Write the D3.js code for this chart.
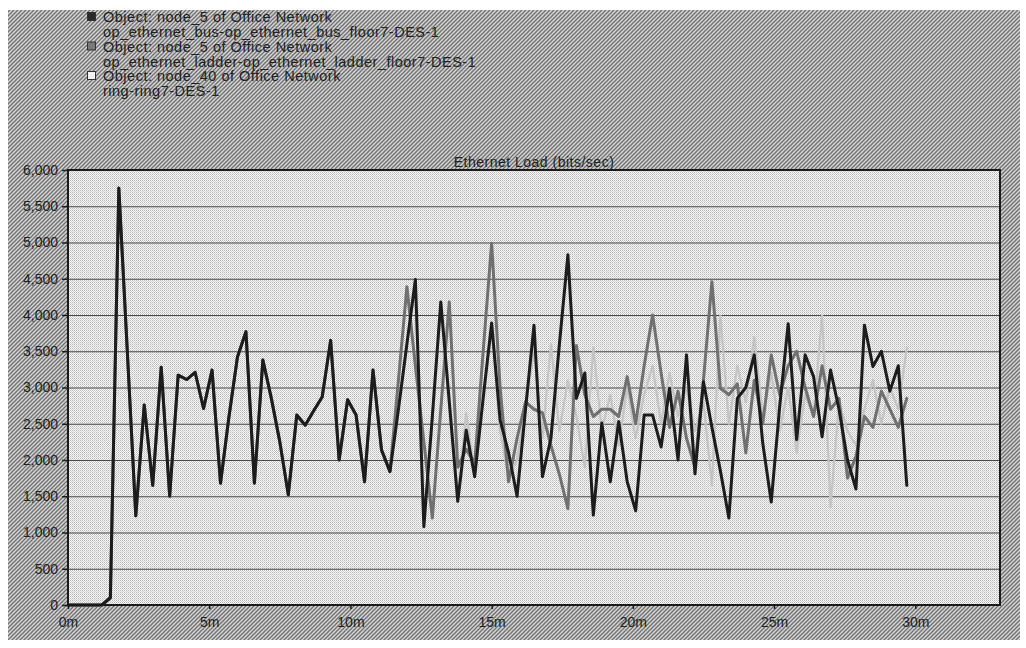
<!DOCTYPE html>
<html><head><meta charset="utf-8">
<script src="https://cdn.jsdelivr.net/npm/d3@7"></script>
<style>
html,body{margin:0;padding:0;background:#fff;}
svg text{font-family:"Liberation Sans",Arial,sans-serif;}
</style></head>
<body><svg id="c" width="1026" height="648"></svg>
<script>
// ---------------- data ----------------
const timeMin = [0,0.3,0.6,0.9,1.2,1.5,1.8,2.1,2.4,2.7,3.0,3.3,3.6,3.9,4.2,4.5,4.8,5.1,5.4,5.7,
  6.0,6.3,6.6,6.9,7.2,7.5,7.8,8.1,8.4,8.7,9.0,9.3,9.6,9.9,10.2,10.5,10.8,11.1,11.4,11.7,
  12.0,12.3,12.6,12.9,13.2,13.5,13.8,14.1,14.4,14.7,15.0,15.3,15.6,15.9,16.2,16.5,16.8,17.1,17.4,17.7,
  18.0,18.3,18.6,18.9,19.2,19.5,19.8,20.1,20.4,20.7,21.0,21.3,21.6,21.9,22.2,22.5,22.8,23.1,23.4,23.7,
  24.0,24.3,24.6,24.9,25.2,25.5,25.8,26.1,26.4,26.7,27.0,27.3,27.6,27.9,28.2,28.5,28.8,29.1,29.4,29.7];

const busLoad = [0,0,0,0,0,100,5750,3500,1230,2760,1650,3280,1500,3170,3110,3210,2710,3240,1680,2600,
  3420,3770,1680,3380,2850,2250,1520,2620,2480,2680,2870,3650,2000,2830,2620,1700,3240,2140,1840,2700,
  3600,4490,1080,2600,4180,2800,1430,2410,1770,2850,3890,2550,2100,1500,2700,3860,1770,2300,3600,4830,
  2850,3200,1240,2510,1700,2530,1700,1300,2620,2620,2180,2990,2000,3450,1810,3080,2450,1850,1200,2850,
  3000,3450,2230,1420,2740,3880,2280,3450,3150,2320,3240,2700,2000,1600,3860,3290,3500,2950,3300,1650];

const ladderLoad = [0,0,0,0,0,100,5750,3500,1230,2760,1650,3280,1500,3170,3110,3210,2710,3240,1680,2600,
  3420,3770,1680,3380,2850,2250,1520,2620,2480,2680,2870,3650,2000,2830,2620,1700,3240,2140,1840,3100,
  4390,3300,2250,1200,2700,4180,1900,2150,1950,3500,4990,3000,1700,2300,2800,2700,2650,2200,1800,1330,
  3580,2900,2600,2700,2700,2600,3150,2500,3300,4000,3200,2450,2950,2300,1900,3100,4460,2990,2900,3050,
  2100,3100,2500,3450,2900,3300,3500,3000,2600,3300,2700,2850,1750,2050,2600,2450,2950,2700,2450,2850];

const ringLoad = [0,0,0,0,0,100,5750,3500,1230,2760,1650,3280,1500,3170,3110,3210,2710,3240,1680,2600,
  3420,3770,1680,3380,2850,2250,1520,2620,2480,2680,2870,3650,2000,2830,2620,1700,3240,2140,1840,2700,
  3600,4400,1150,2500,4150,2900,1500,2650,1800,2900,3800,2400,1750,2000,2750,3500,2300,3600,2400,3100,
  2600,1900,3550,2400,2900,2200,3000,2300,2900,3300,2500,3200,2600,3000,2400,2800,1650,4000,2500,3300,
  2800,3700,2600,3200,2400,3000,2100,2900,2600,4000,1350,2800,2400,2200,2700,3100,2500,3000,2700,3550];

const seriesNames = [
  ["Object: node_5 of Office Network", "op_ethernet_bus-op_ethernet_bus_floor7-DES-1"],
  ["Object: node_5 of Office Network", "op_ethernet_ladder-op_ethernet_ladder_floor7-DES-1"],
  ["Object: node_40 of Office Network", "ring-ring7-DES-1"]
];
const yTicks = [0,500,1000,1500,2000,2500,3000,3500,4000,4500,5000,5500,6000];
const xTicks = [0,5,10,15,20,25,30];
const chartTitle = "Ethernet Load (bits/sec)";

// ---------------- drawing ----------------
const svg = d3.select("#c");
const defs = svg.append("defs");
const hatch = defs.append("pattern").attr("id","hatch").attr("width",4).attr("height",4)
  .attr("patternUnits","userSpaceOnUse");
hatch.append("rect").attr("width",4).attr("height",4).attr("fill","#d2d2d2");
hatch.append("path").attr("d","M-1,1 L1,-1 M0,4 L4,0 M3,5 L5,3")
  .attr("stroke","#707070").attr("stroke-width",1.25);
const dots = defs.append("pattern").attr("id","dots").attr("width",2).attr("height",2)
  .attr("patternUnits","userSpaceOnUse");
dots.append("rect").attr("width",2).attr("height",2).attr("fill","#f8f8f8");
dots.append("rect").attr("width",1).attr("height",1).attr("fill","#b8b8b8");
dots.append("rect").attr("x",1).attr("y",1).attr("width",1).attr("height",1).attr("fill","#d0d0d0");

svg.append("rect").attr("x",8).attr("y",10).attr("width",1012).attr("height",630).attr("fill","url(#hatch)");

const M = {left:68, top:170, right:1000, bottom:605};
const x = d3.scaleLinear().domain([0,33]).range([M.left, M.right]);
const y = d3.scaleLinear().domain([0,6000]).range([M.bottom, M.top]);

svg.append("rect").attr("x",M.left).attr("y",M.top).attr("width",M.right-M.left)
  .attr("height",M.bottom-M.top).attr("fill","url(#dots)");

// gridlines
svg.append("g").selectAll("line").data(yTicks.filter(d=>d>0 && d<6000)).join("line")
  .attr("x1",M.left).attr("x2",M.right).attr("y1",d=>y(d)+0.5).attr("y2",d=>y(d)+0.5)
  .attr("stroke","#474747").attr("stroke-width",1);

// title
svg.append("text").attr("x",(M.left+M.right)/2).attr("y",M.top-3).attr("text-anchor","middle")
  .attr("font-size",14).attr("letter-spacing",0.5).attr("fill","#222").text(chartTitle);

// series
const lineGen = d3.line().x((d,i)=>x(timeMin[i])).y(d=>y(d)).curve(d3.curveLinear);
const series = [
  {vals: ringLoad, color:"#c4c4c4", w:2.2},
  {vals: ladderLoad, color:"#707070", w:3},
  {vals: busLoad, color:"#1c1c1c", w:3}
];
svg.append("g").selectAll("path").data(series).join("path")
  .attr("d",d=>lineGen(d.vals)).attr("fill","none")
  .attr("stroke",d=>d.color).attr("stroke-width",d=>d.w)
  .attr("stroke-linejoin","round").attr("stroke-linecap","round");

// frame
svg.append("rect").attr("x",M.left).attr("y",M.top).attr("width",M.right-M.left)
  .attr("height",M.bottom-M.top).attr("fill","none").attr("stroke","#1a1a1a").attr("stroke-width",2);

// axes
const yAxis = svg.append("g").attr("transform",`translate(${M.left},0)`)
  .call(d3.axisLeft(y).tickValues(yTicks).tickFormat(d3.format(",")).tickSize(6).tickPadding(4));
const xAxis = svg.append("g").attr("transform",`translate(0,${M.bottom})`)
  .call(d3.axisBottom(x).tickValues(xTicks).tickFormat(d=>d+"m").tickSize(4).tickPadding(8));
[yAxis,xAxis].forEach(g=>{
  g.select(".domain").remove();
  g.selectAll("line").attr("stroke","#1a1a1a").attr("stroke-width",1.5);
  g.selectAll("text").attr("font-size",14).attr("fill","#222")
    .attr("font-family","'Liberation Sans',Arial,sans-serif");
});

// legend
const legColors = ["#2a2a2a","#7a7a7a","#f2f2f2"];
const leg = svg.append("g");
seriesNames.forEach((nm,i)=>{
  const y0 = 17 + i*29.5;
  leg.append("rect").attr("x",87.5).attr("y",y0-4.5).attr("width",8).attr("height",8)
    .attr("fill",legColors[i]).attr("stroke","#333").attr("stroke-width",1);
  leg.append("text").attr("x",103).attr("y",y0+5).attr("font-size",14.5).attr("letter-spacing",0.5)
    .attr("fill","#222").text(nm[0]);
  leg.append("text").attr("x",103).attr("y",y0+20).attr("font-size",14.5).attr("letter-spacing",0.5)
    .attr("fill","#222").text(nm[1]);
});
</script></body></html>
